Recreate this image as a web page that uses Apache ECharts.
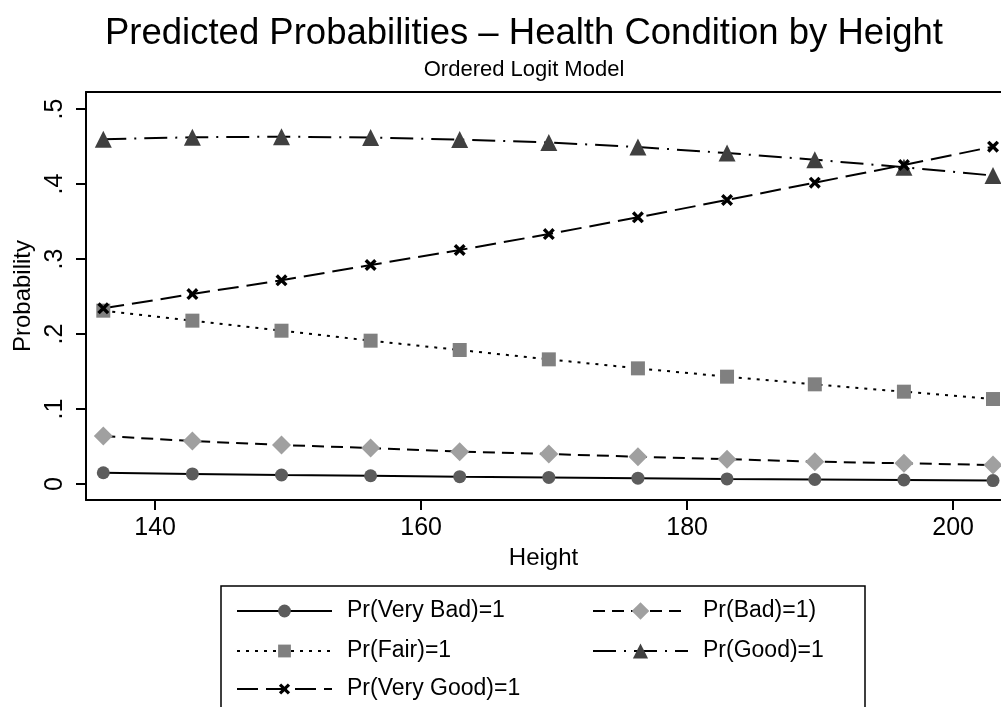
<!DOCTYPE html>
<html>
<head>
<meta charset="utf-8">
<script src="https://cdn.jsdelivr.net/npm/echarts@6/dist/echarts.min.js"></script>
<style>
  html, body { margin: 0; padding: 0; background: #fff; }
  #chart { width: 1001px; height: 707px; }
</style>
</head>
<body>
<div id="chart"></div>
<script>
// Height values (x) at which the probabilities were predicted
const heights = [136.1, 142.8, 149.5, 156.2, 162.9, 169.6, 176.3, 183.0, 189.6, 196.3, 203.0];

// Predicted probabilities per outcome
const prVeryBad  = [0.0150, 0.0135, 0.0120, 0.0110, 0.0098, 0.0088, 0.0078, 0.0068, 0.0060, 0.0053, 0.0046];
const prBad      = [0.0640, 0.0573, 0.0520, 0.0480, 0.0431, 0.0400, 0.0364, 0.0331, 0.0298, 0.0276, 0.0253];
const prFair     = [0.2311, 0.2178, 0.2044, 0.1911, 0.1787, 0.1662, 0.1542, 0.1431, 0.1329, 0.1231, 0.1133];
const prGood     = [0.4596, 0.4623, 0.4631, 0.4620, 0.4593, 0.4553, 0.4493, 0.4413, 0.4324, 0.4223, 0.4113];
const prVeryGood = [0.2342, 0.2533, 0.2716, 0.2920, 0.3120, 0.3333, 0.3556, 0.3787, 0.4018, 0.4253, 0.4498];

// Axis ticks
const xTicks = [140, 160, 180, 200];
const yTicks = [0, 0.1, 0.2, 0.3, 0.4, 0.5];
const yTickLabels = ['0', '.1', '.2', '.3', '.4', '.5'];

const FONT = '"Liberation Sans", Arial, sans-serif';
const crossPath = 'path://M0,2L2,0L5,3L8,0L10,2L7,5L10,8L8,10L5,7L2,10L0,8L3,5Z';

const pairs = (ys) => heights.map((h, i) => [h, ys[i]]);

const chart = echarts.init(document.getElementById('chart'));

function makeSeries(name, ys, lineType, symbol, size, color) {
  return {
    name: name,
    type: 'line',
    data: pairs(ys),
    symbol: symbol,
    symbolSize: size,
    showAllSymbol: true,
    lineStyle: { color: '#000', width: 2, type: lineType },
    itemStyle: { color: color, borderWidth: 0 },
    emphasis: { disabled: true },
  };
}

function legendAt(name, left, centerY, iconH) {
  return {
    data: [name],
    left: left,
    top: centerY - 12,
    orient: 'vertical',
    itemWidth: 95,
    itemHeight: iconH,
    padding: 0,
    selectedMode: false,
    textStyle: { fontFamily: FONT, fontSize: 23, color: '#000', lineHeight: 24, padding: [0, 0, 0, 10] },
  };
}

const xMin = 134.8;
const xMax = 203.6;

const option = {
  animation: false,
  backgroundColor: '#fff',
  title: [
    {
      text: 'Predicted Probabilities – Health Condition by Height',
      left: 519, top: 10, textAlign: 'center',
      textStyle: { fontFamily: FONT, fontSize: 36.5, fontWeight: 'normal', color: '#000' },
    },
    {
      text: 'Ordered Logit Model',
      left: 519, top: 54, textAlign: 'center',
      textStyle: { fontFamily: FONT, fontSize: 22, fontWeight: 'normal', color: '#000' },
    },
  ],
  // plot area runs off the right edge, so no right border
  grid: { left: 86, right: 0, top: 92, bottom: 207 },
  xAxis: [
    {
      type: 'value',
      min: xMin, max: xMax,
      name: 'Height', nameLocation: 'middle', nameGap: 44,
      nameTextStyle: { fontFamily: FONT, fontSize: 24, color: '#000' },
      axisLine: { onZero: false, lineStyle: { color: '#000', width: 2 } },
      axisTick: { show: true, length: 10, lineStyle: { color: '#000', width: 2 }, customValues: xTicks },
      axisLabel: { fontFamily: FONT, fontSize: 25, color: '#000', margin: 16, customValues: xTicks },
      splitLine: { show: false },
    },
    {
      // top frame line
      type: 'value', position: 'top',
      min: xMin, max: xMax,
      axisLine: { show: true, onZero: false, lineStyle: { color: '#000', width: 2 } },
      axisTick: { show: false },
      axisLabel: { show: false },
      splitLine: { show: false },
    },
  ],
  yAxis: {
    type: 'value',
    min: -0.02133, max: 0.52267,
    name: 'Probability', nameLocation: 'middle', nameGap: 50,
    nameTextStyle: { fontFamily: FONT, fontSize: 24, color: '#000' },
    axisLine: { show: true, onZero: false, lineStyle: { color: '#000', width: 2 } },
    axisTick: { show: true, length: 10, lineStyle: { color: '#000', width: 2 }, customValues: yTicks },
    axisLabel: {
      fontFamily: FONT, fontSize: 25, color: '#000', margin: 18, rotate: 90,
      customValues: yTicks,
      formatter: (v) => {
        const i = yTicks.findIndex((t) => Math.abs(t - v) < 1e-9);
        return i >= 0 ? yTickLabels[i] : '';
      },
    },
    splitLine: { show: false },
  },
  legend: [
    legendAt('Pr(Very Bad)=1', 236, 611, 16),
    legendAt('Pr(Fair)=1', 236, 651, 16),
    legendAt('Pr(Very Good)=1', 236, 689, 14),
    legendAt('Pr(Bad)=1)', 592, 611, 22),
    legendAt('Pr(Good)=1', 592, 651, 19),
  ],
  graphic: [
    {
      type: 'rect',
      shape: { x: 221, y: 586, width: 644, height: 200 },
      style: { fill: 'none', stroke: '#000', lineWidth: 1.5 },
      z: 0,
    },
  ],
  series: [
    makeSeries('Pr(Very Bad)=1', prVeryBad, 'solid', 'circle', 13, '#5c5c5c'),
    makeSeries('Pr(Bad)=1)', prBad, [12, 7], 'diamond', 19, '#a0a0a0'),
    makeSeries('Pr(Fair)=1', prFair, [3, 6], 'rect', 14, '#808080'),
    makeSeries('Pr(Good)=1', prGood, [23, 8, 2, 8], 'triangle', 17, '#404040'),
    makeSeries('Pr(Very Good)=1', prVeryGood, [21, 8], crossPath, 12, '#000'),
  ],
};

chart.setOption(option);
</script>
</body>
</html>
